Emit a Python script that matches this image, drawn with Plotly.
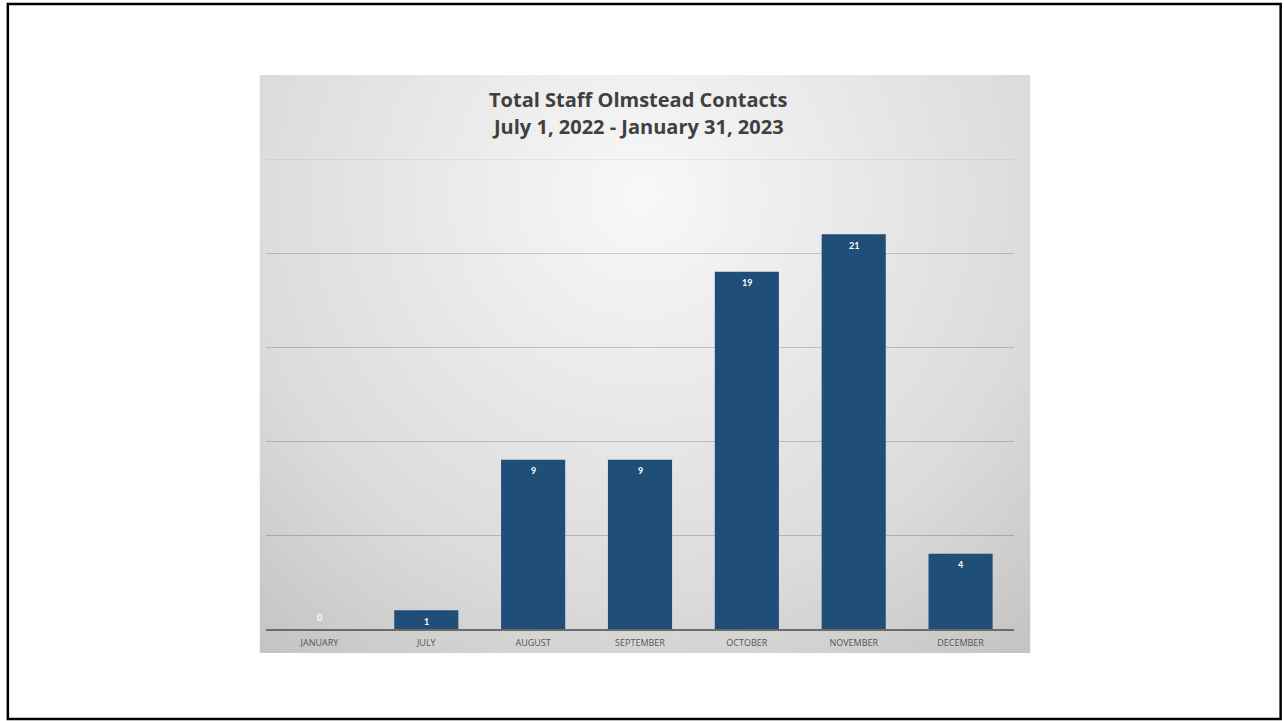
import base64
import plotly.graph_objects as go

months = ["JANUARY", "JULY", "AUGUST", "SEPTEMBER", "OCTOBER", "NOVEMBER", "DECEMBER"]
contacts = [0, 1, 9, 9, 19, 21, 4]
title_line1 = "Total Staff Olmstead Contacts"
title_line2 = "July 1, 2022 - January 31, 2023"

W, H = 1284, 721
L, R, T, B = 265.5, 1014.5, 159, 629  # plot area in pixels


def px_x(p):
    return (p - L) / (R - L)


def px_y(p):
    return (B - p) / (B - T)


bar_color = "#1F4E79"

fig = go.Figure()
fig.add_trace(go.Bar(
    x=months, y=contacts, marker=dict(color=bar_color, line=dict(width=0)),
    width=0.6, hoverinfo="x+y", showlegend=False,
))

for m, v in zip(months, contacts):
    fig.add_annotation(
        x=m, y=v, text=f"<b>{v}</b>", showarrow=False,
        font=dict(family="Lato, sans-serif", size=9, color="white"),
        yshift=(-11 if v > 0 else 12), xref="x", yref="y",
    )

# chart background: radial gradient image
svg = (
    "<svg xmlns='http://www.w3.org/2000/svg' width='772' height='578' viewBox='0 0 772 578' preserveAspectRatio='none'>"
    "<defs><radialGradient id='g' gradientUnits='userSpaceOnUse' cx='383' cy='120' r='610'>"
    "<stop offset='0' stop-color='#f8f8f8'/><stop offset='0.66' stop-color='#dbdbdb'/>"
    "<stop offset='1' stop-color='#c2c2c2'/></radialGradient></defs>"
    "<rect width='772' height='578' fill='url(#g)'/></svg>"
)
src = "data:image/svg+xml;base64," + base64.b64encode(svg.encode()).decode()
fig.add_layout_image(
    source=src, xref="paper", yref="paper",
    x=px_x(259), y=px_y(75), sizex=px_x(1031) - px_x(259), sizey=px_y(75) - px_y(653),
    xanchor="left", yanchor="top", sizing="stretch", layer="below",
)

# top gridline at the edge of the value range
fig.add_shape(type="line", xref="paper", yref="y", x0=0, x1=1, y0=25, y1=25,
              line=dict(color="rgba(0,0,0,0.12)", width=1), layer="below")

# slide border
fig.add_shape(type="rect", xref="paper", yref="paper",
              x0=px_x(7), x1=px_x(1281.5), y0=px_y(4), y1=px_y(719),
              line=dict(color="black", width=2.5), fillcolor="rgba(0,0,0,0)", layer="above")

for txt, yy in [(title_line1, 99), (title_line2, 127)]:
    fig.add_annotation(text=f"<b>{txt}</b>", xref="paper", yref="paper",
                       x=px_x(638), y=px_y(yy), xanchor="center", yanchor="middle",
                       showarrow=False,
                       font=dict(family="Open Sans, sans-serif", size=20, color="#404040"))

fig.update_layout(
    width=W, height=H,
    margin=dict(l=L, r=W - R, t=T, b=H - B, pad=0),
    paper_bgcolor="white", plot_bgcolor="rgba(0,0,0,0)",
    bargap=0.4,
    xaxis=dict(showline=True, linecolor="#6b6b6b", linewidth=1.5, ticks="",
               tickfont=dict(family="Open Sans, sans-serif", size=9, color="#555555"),
               ticklabelstandoff=4,
               showgrid=False, fixedrange=True),
    yaxis=dict(range=[0, 25], dtick=5, showticklabels=False, showgrid=True,
               gridcolor="rgba(0,0,0,0.18)", gridwidth=1, zeroline=False, showline=False,
               fixedrange=True),
)

fig.write_html("out.html")
